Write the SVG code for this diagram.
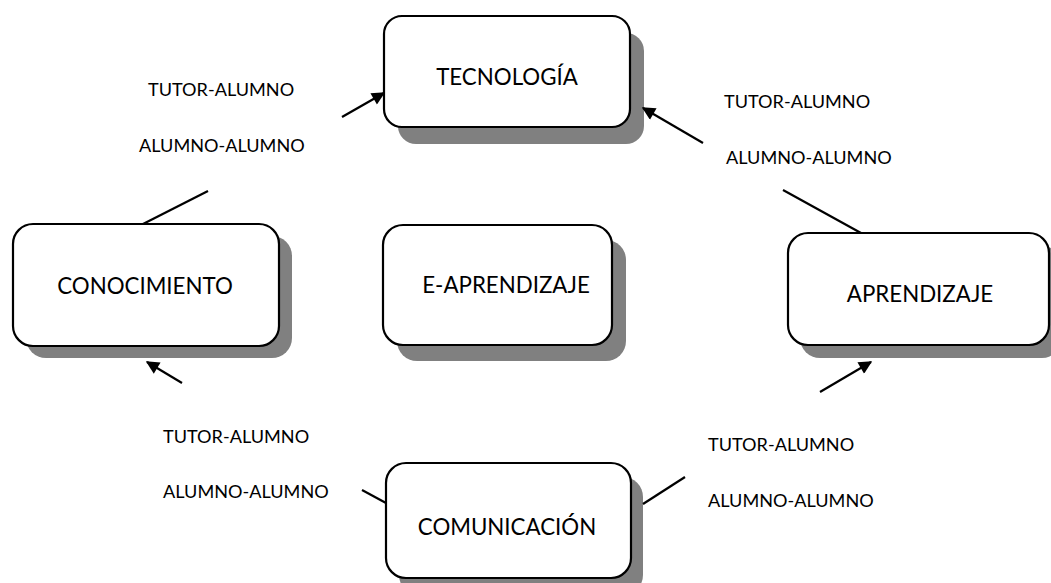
<svg xmlns="http://www.w3.org/2000/svg" width="1051" height="583" viewBox="0 0 1051 583">
<defs>
<style>
.box{fill:#fff;stroke:#000;stroke-width:2.2}
.sh{fill:#808080}
.nt{font-family:Lato,"Open Sans",sans-serif;font-size:22.3px;fill:#000;text-anchor:middle}
.lb{font-family:Lato,"Open Sans",sans-serif;font-size:18.1px;fill:#000}
.ln{stroke:#000;stroke-width:2.2;fill:none}
</style>
<marker id="ah" viewBox="0 0 10 10" refX="9" refY="5" markerWidth="8" markerHeight="6" markerUnits="strokeWidth" orient="auto">
<path d="M0,0 L10,5 L0,10 z" fill="#000"/>
</marker>
</defs>
<rect width="1051" height="583" fill="#fff"/>
<g id="tecnologia">
<rect class="sh" x="398" y="33" width="246" height="111" rx="18"/>
<rect class="box" x="384" y="16" width="246" height="111" rx="18"/>
<text class="nt" x="507" y="85">TECNOLOGÍA</text>
</g>
<g id="conocimiento">
<rect class="sh" x="26" y="236" width="266" height="122" rx="20"/>
<rect class="box" x="13" y="224" width="266" height="122" rx="20"/>
<text class="nt" x="145" y="294">CONOCIMIENTO</text>
</g>
<g id="e-aprendizaje">
<rect class="sh" x="397" y="240" width="229" height="121" rx="20"/>
<rect class="box" x="383" y="225" width="229" height="120" rx="20"/>
<text class="nt" x="506" y="293">E-APRENDIZAJE</text>
</g>
<g id="aprendizaje">
<rect class="sh" x="800" y="246" width="262" height="112" rx="20"/>
<rect class="box" x="788" y="233" width="261" height="112" rx="20"/>
<text class="nt" x="920" y="302">APRENDIZAJE</text>
</g>
<g id="comunicacion">
<rect class="sh" x="399" y="477" width="244" height="118" rx="20"/>
<rect class="box" x="386" y="463" width="245" height="115" rx="20"/>
<text class="nt" x="507" y="535">COMUNICACIÓN</text>
</g>
<g id="connectors">
<line class="ln" x1="143" y1="224" x2="208" y2="191"/>
<line class="ln" x1="342" y1="117" x2="384" y2="93" marker-end="url(#ah)"/>
<line class="ln" x1="861" y1="233" x2="783" y2="190"/>
<line class="ln" x1="703" y1="143" x2="643" y2="108" marker-end="url(#ah)"/>
<line class="ln" x1="643" y1="504" x2="685" y2="477"/>
<line class="ln" x1="820" y1="392" x2="871" y2="362" marker-end="url(#ah)"/>
<line class="ln" x1="386" y1="503" x2="362" y2="490"/>
<line class="ln" x1="182" y1="383" x2="147" y2="362" marker-end="url(#ah)"/>
</g>
<g id="labels">
<text class="lb" x="148" y="96">TUTOR-ALUMNO</text>
<text class="lb" x="139" y="152">ALUMNO-ALUMNO</text>
<text class="lb" x="724" y="108">TUTOR-ALUMNO</text>
<text class="lb" x="726" y="164">ALUMNO-ALUMNO</text>
<text class="lb" x="163" y="443">TUTOR-ALUMNO</text>
<text class="lb" x="163" y="498">ALUMNO-ALUMNO</text>
<text class="lb" x="708" y="451">TUTOR-ALUMNO</text>
<text class="lb" x="708" y="507">ALUMNO-ALUMNO</text>
</g>
</svg>
